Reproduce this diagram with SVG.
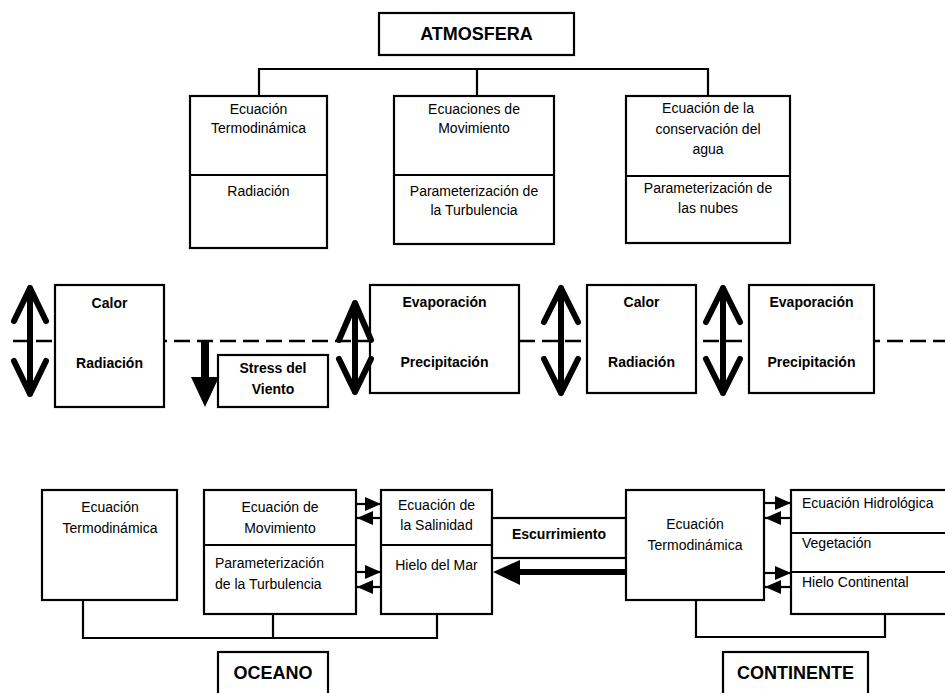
<svg xmlns="http://www.w3.org/2000/svg" width="945" height="693" viewBox="0 0 945 693">
<style>
.box{fill:#fff;stroke:#000;stroke-width:2.2}
.ln{fill:none;stroke:#000;stroke-width:2.2}
.dash{fill:none;stroke:#000;stroke-width:2.5;stroke-dasharray:16 7}
.dbl{fill:none;stroke:#000;stroke-width:6;stroke-linecap:round;stroke-linejoin:round}
.t{font-family:"Liberation Sans",Arial,sans-serif;font-size:14px;fill:#000}
.c{text-anchor:middle}
.b{font-weight:bold;font-size:14px}
.h{font-weight:bold;font-size:18px}
</style>
<defs>
<marker id="ah" markerUnits="userSpaceOnUse" markerWidth="17" markerHeight="15" refX="16" refY="7" orient="auto">
<path d="M0,0 L16,7 L0,14 z" fill="#000"/>
</marker>
</defs>

<g id="connectors">
<path class="ln" d="M259,96 V69 H708 V96 M477,69 V96"/>
<path class="dash" d="M13,341 H945"/>
<path class="ln" d="M83,600 V638 H437 V614 M273,614 V638"/>
<path class="ln" d="M696,600 V637 H885 V614"/>
<line class="ln" x1="356" y1="504" x2="381" y2="504" marker-end="url(#ah)"/>
<line class="ln" x1="381" y1="518" x2="357" y2="518" marker-end="url(#ah)"/>
<line class="ln" x1="356" y1="572" x2="381" y2="572" marker-end="url(#ah)"/>
<line class="ln" x1="381" y1="587" x2="357" y2="587" marker-end="url(#ah)"/>
<line class="ln" x1="764" y1="503" x2="791" y2="503" marker-end="url(#ah)"/>
<line class="ln" x1="791" y1="518" x2="765" y2="518" marker-end="url(#ah)"/>
<line class="ln" x1="764" y1="573" x2="791" y2="573" marker-end="url(#ah)"/>
<line class="ln" x1="791" y1="587" x2="765" y2="587" marker-end="url(#ah)"/>
<line x1="626" y1="572" x2="516" y2="572" stroke="#000" stroke-width="6"/>
<polygon points="493,572 520,560 520,585" fill="#000"/>
</g>

<g id="atmosfera">
<rect class="box" x="379" y="13" width="195" height="42"/>
<text class="t c h" x="476.5" y="40">ATMOSFERA</text>
</g>

<g id="atm-termo">
<rect class="box" x="190" y="96" width="137" height="152"/>
<line class="ln" x1="190" y1="175" x2="327" y2="175"/>
<text class="t c" x="258.5" y="114">Ecuación</text>
<text class="t c" x="258.5" y="133">Termodinámica</text>
<text class="t c" x="258.5" y="196">Radiación</text>
</g>

<g id="atm-mov">
<rect class="box" x="394" y="96" width="160" height="148"/>
<line class="ln" x1="394" y1="175" x2="554" y2="175"/>
<text class="t c" x="474" y="114">Ecuaciones de</text>
<text class="t c" x="474" y="133">Movimiento</text>
<text class="t c" x="474" y="196">Parameterización de</text>
<text class="t c" x="474" y="215">la Turbulencia</text>
</g>

<g id="atm-agua">
<rect class="box" x="626" y="96" width="164" height="147"/>
<line class="ln" x1="626" y1="176" x2="790" y2="176"/>
<text class="t c" x="708" y="113">Ecuación de la</text>
<text class="t c" x="708" y="134">conservación del</text>
<text class="t c" x="708" y="154">agua</text>
<text class="t c" x="708" y="193">Parameterización de</text>
<text class="t c" x="708" y="213">las nubes</text>
</g>

<g id="calor1">
<rect class="box" x="55" y="285" width="109" height="122"/>
<text class="t c b" x="109.5" y="308">Calor</text>
<text class="t c b" x="109.5" y="368">Radiación</text>
</g>

<g id="stress">
<rect class="box" x="218" y="355" width="110" height="52"/>
<text class="t c b" x="273" y="373">Stress del</text>
<text class="t c b" x="273" y="394">Viento</text>
</g>

<g id="evap1">
<rect class="box" x="370" y="285" width="149" height="108"/>
<text class="t c b" x="444.5" y="307">Evaporación</text>
<text class="t c b" x="444.5" y="367">Precipitación</text>
</g>

<g id="calor2">
<rect class="box" x="587" y="285" width="109" height="108"/>
<text class="t c b" x="641.5" y="307">Calor</text>
<text class="t c b" x="641.5" y="367">Radiación</text>
</g>

<g id="evap2">
<rect class="box" x="749" y="285" width="125" height="108"/>
<text class="t c b" x="811.5" y="307">Evaporación</text>
<text class="t c b" x="811.5" y="367">Precipitación</text>
</g>

<g id="fluxes">
<path class="dbl" d="M30,288 V394 M14,321 L30,288 L46,321 M14,361 L30,394 L46,361"/>
<path class="dbl" d="M355,303 V392 M339,340 L355,303 L371,340 M339,359 L355,392 L371,359"/>
<path class="dbl" d="M561,288 V393 M544,322 L561,288 L578,322 M544,359 L561,393 L578,359"/>
<path class="dbl" d="M723,288 V393 M706,322 L723,288 L740,322 M706,359 L723,393 L740,359"/>
<rect x="201" y="341" width="8" height="37" fill="#000"/>
<polygon points="191,377 219,377 205,407" fill="#000"/>
</g>

<g id="oce-termo">
<rect class="box" x="42" y="490" width="135" height="110"/>
<text class="t c" x="110" y="512">Ecuación</text>
<text class="t c" x="110" y="533">Termodinámica</text>
</g>

<g id="oce-mov">
<rect class="box" x="204" y="490" width="152" height="124"/>
<line class="ln" x1="204" y1="545" x2="356" y2="545"/>
<text class="t c" x="280" y="512">Ecuación de</text>
<text class="t c" x="280" y="533">Movimiento</text>
<text class="t" x="215" y="568">Parameterización</text>
<text class="t" x="215" y="589">de la Turbulencia</text>
</g>

<g id="oce-sal">
<rect class="box" x="381" y="490" width="111" height="124"/>
<line class="ln" x1="381" y1="545" x2="492" y2="545"/>
<text class="t c" x="436.5" y="510">Ecuación de</text>
<text class="t c" x="436.5" y="530">la Salinidad</text>
<text class="t c" x="436.5" y="570">Hielo del Mar</text>
</g>

<g id="escurrimiento">
<rect class="box" x="492" y="518" width="134" height="40"/>
<text class="t c b" x="559" y="539">Escurrimiento</text>
</g>

<g id="con-termo">
<rect class="box" x="626" y="490" width="138" height="110"/>
<text class="t c" x="695" y="529">Ecuación</text>
<text class="t c" x="695" y="550">Termodinámica</text>
</g>

<g id="con-hidro">
<rect class="box" x="791" y="490" width="160" height="124"/>
<line class="ln" x1="791" y1="533" x2="945" y2="533"/>
<line class="ln" x1="791" y1="572" x2="945" y2="572"/>
<text class="t" x="802" y="508">Ecuación Hidrológica</text>
<text class="t" x="802" y="548">Vegetación</text>
<text class="t" x="802" y="587">Hielo Continental</text>
</g>

<g id="oceano">
<rect class="box" x="218" y="652" width="110" height="50"/>
<text class="t c h" x="273" y="679">OCEANO</text>
</g>

<g id="continente">
<rect class="box" x="723" y="652" width="145" height="50"/>
<text class="t c h" x="795.5" y="679">CONTINENTE</text>
</g>
</svg>
